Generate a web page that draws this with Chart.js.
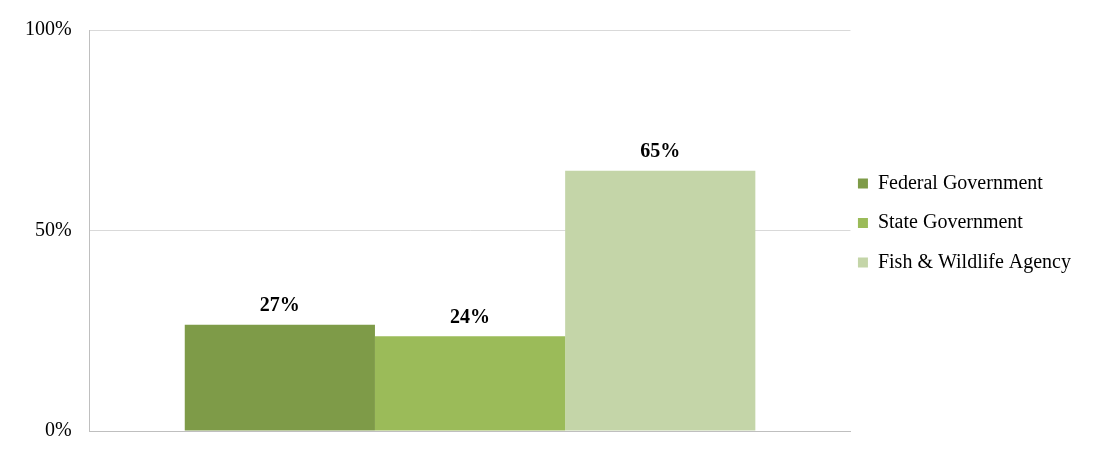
<!DOCTYPE html>
<html>
<head>
<meta charset="utf-8">
<script src="https://cdn.jsdelivr.net/npm/chart.js@4.4.1/dist/chart.umd.min.js"></script>
<style>
  html, body { margin: 0; padding: 0; background: #fff; }
  #wrap { width: 1099px; height: 464px; }
</style>
</head>
<body>
<div id="wrap"><canvas id="agencyChart"></canvas></div>
<script>
// Values
const categories = [''];
const seriesNames = ['Federal Government', 'State Government', 'Fish & Wildlife Agency'];
const federalValues = [26.5];
const stateValues = [23.6];
const fishValues = [64.9];
const yTicks = [0, 50, 100];

const colors = ['#7e9b48', '#9bbb59', '#c4d5a8'];
const serif = '"Liberation Serif", "Times New Roman", serif';

// Draw value labels above each bar
const barLabels = {
    id: 'barLabels',
    afterDatasetsDraw: function (chart) {
        const ctx = chart.ctx;
        ctx.save();
        ctx.font = 'bold 20px ' + serif;
        ctx.fillStyle = '#000';
        ctx.textAlign = 'center';
        ctx.textBaseline = 'middle';
        chart.data.datasets.forEach(function (ds, i) {
            const meta = chart.getDatasetMeta(i);
            meta.data.forEach(function (bar, j) {
                ctx.fillText(Math.round(ds.data[j]) + '%', bar.x, bar.y - 19);
            });
        });
        ctx.restore();
    }
};

// Pull the legend a bit closer to the plot area
const legendShift = {
    id: 'legendShift',
    afterLayout: function (chart) {
        chart.legend.left -= 12;
        chart.legend.right -= 12;
        chart.legend.top -= 6;
        chart.legend.bottom -= 6;
    }
};

const data = {
    labels: categories,
    datasets: [
        {label: seriesNames[0], data: federalValues, backgroundColor: colors[0]},
        {label: seriesNames[1], data: stateValues, backgroundColor: colors[1]},
        {label: seriesNames[2], data: fishValues, backgroundColor: colors[2]}
    ]
};

const config = {
    type: 'bar',
    data,
    options: {
        responsive: true,
        maintainAspectRatio: false,
        animation: false,
        layout: {padding: {left: 7, right: 6, top: 27, bottom: 33}},
        datasets: {bar: {categoryPercentage: 0.75, barPercentage: 1.0}},
        plugins: {
            tooltip: {enabled: false},
            legend: {
                position: 'right',
                labels: {
                    boxWidth: 10,
                    boxHeight: 10,
                    padding: 19.5,
                    color: '#000',
                    font: {family: serif, size: 20}
                }
            }
        },
        scales: {
            x: {
                ticks: {display: false},
                grid: {display: false, drawTicks: false},
                border: {color: '#bfbfbf', width: 1}
            },
            y: {
                min: 0,
                max: 100,
                afterBuildTicks: function (axis) {
                    axis.ticks = yTicks.map(function (v) { return {value: v}; });
                },
                ticks: {
                    padding: 18,
                    color: '#000',
                    font: {family: serif, size: 20},
                    callback: function (v) { return v + '%'; }
                },
                grid: {color: '#d9d9d9', drawTicks: false, tickLength: 0},
                border: {color: '#bfbfbf', width: 1}
            }
        }
    },
    plugins: [barLabels, legendShift]
};

new Chart(document.getElementById('agencyChart'), config);
</script>
</body>
</html>
